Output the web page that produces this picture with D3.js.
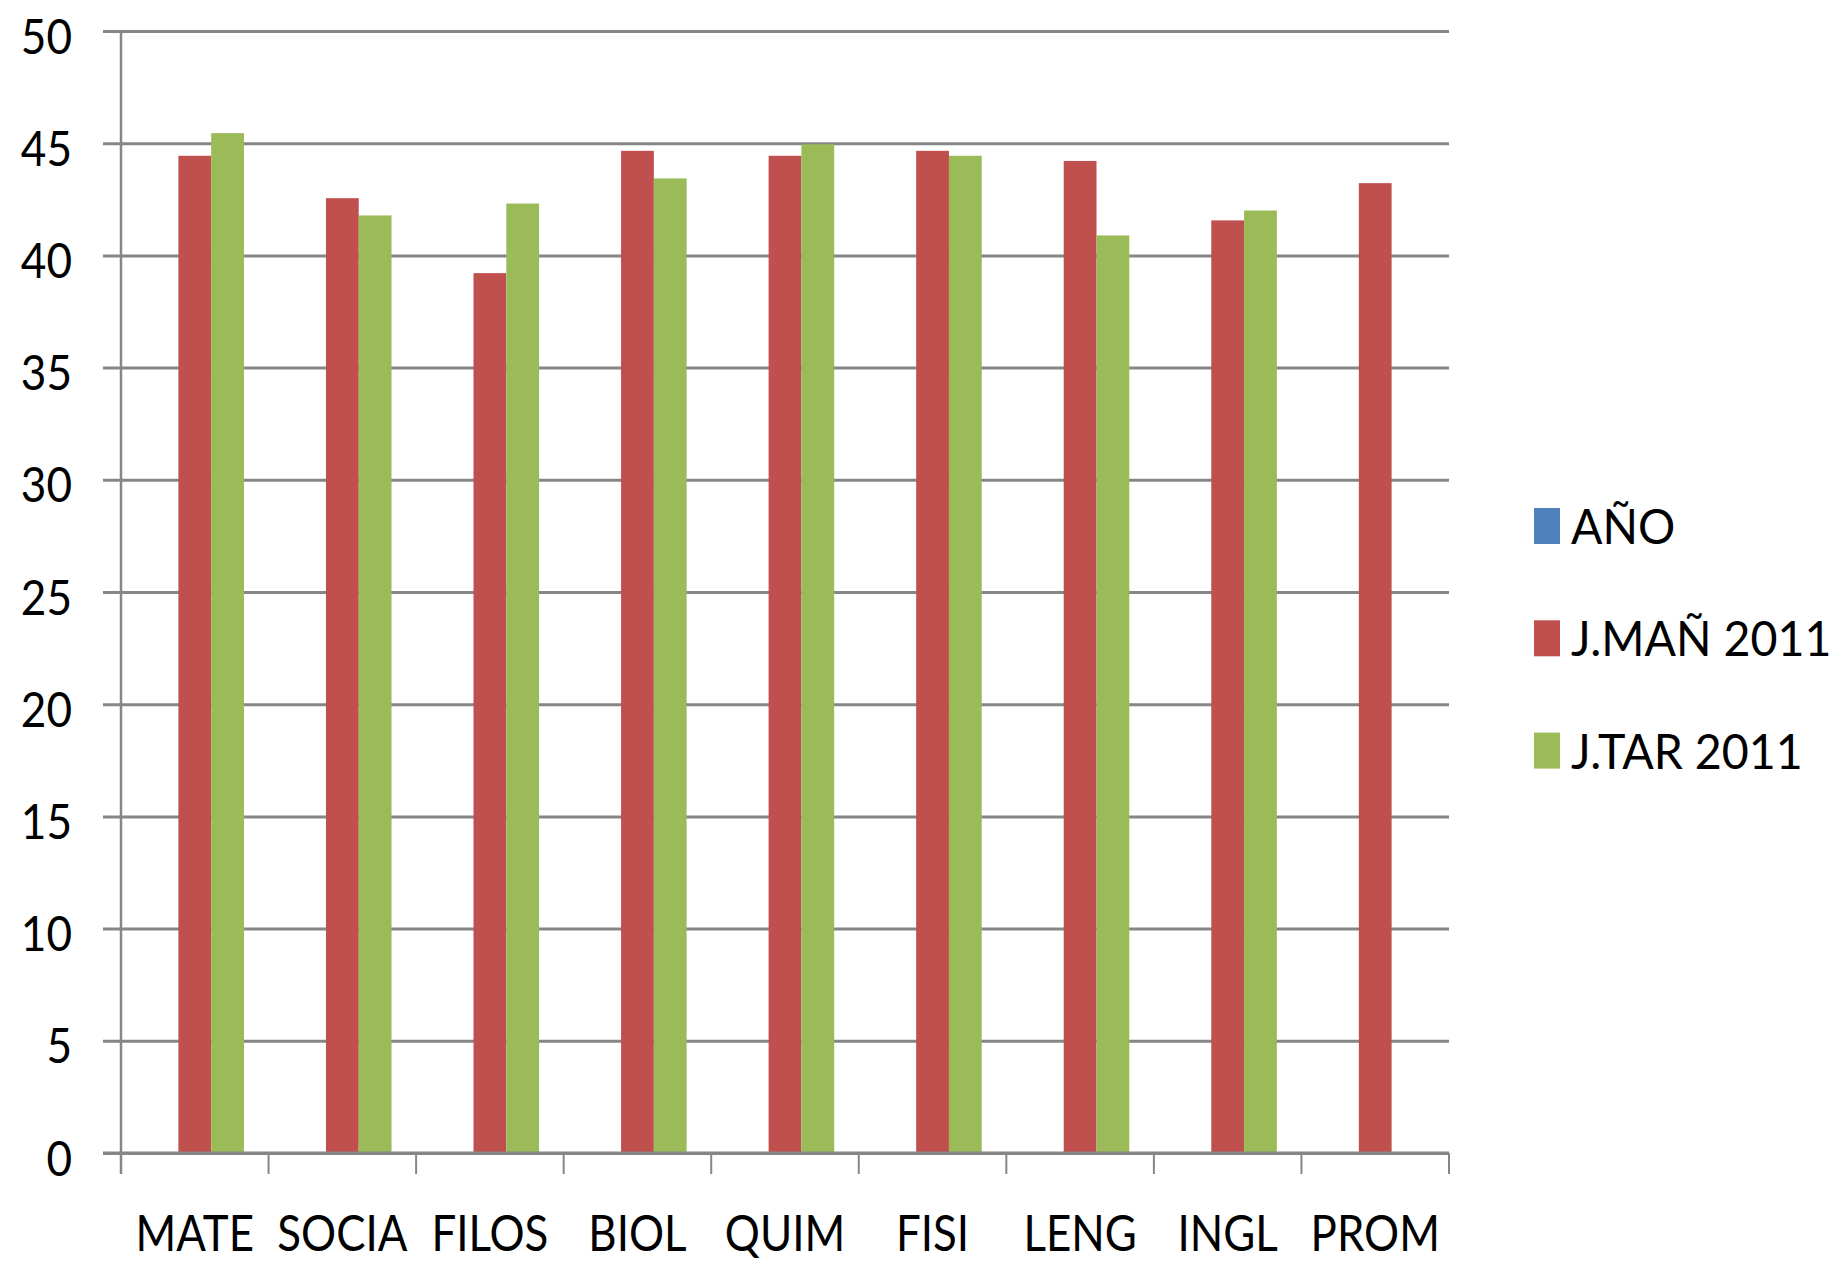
<!DOCTYPE html>
<html>
<head>
<meta charset="utf-8">
<script src="https://cdn.jsdelivr.net/npm/d3@7"></script>
<style>
  body { margin: 0; background: #fff; }
  svg text { font-family: Lato, "Open Sans", sans-serif; fill: #000; }
</style>
</head>
<body>
<svg id="chart"></svg>
<script>
const categories = ["MATE", "SOCIA", "FILOS", "BIOL", "QUIM", "FISI", "LENG", "INGL", "PROM"];
const seriesNames = ["AÑO", "J.MAÑ 2011", "J.TAR 2011"];
const ano = [0, 0, 0, 0, 0, 0, 0, 0, 0];
const jMan = [44.44, 42.55, 39.21, 44.66, 44.44, 44.66, 44.21, 41.56, 43.22];
const jTar = [45.45, 41.78, 42.31, 43.43, 44.95, 44.44, 40.89, 42.0, null];
const yTicks = [0, 5, 10, 15, 20, 25, 30, 35, 40, 45, 50];

const colors = { "AÑO": "#4F81BD", "J.MAÑ 2011": "#C0504D", "J.TAR 2011": "#9BBB59" };
const gridColor = "#868686";

const width = 1837;
const height = 1262;
const margin = { top: 31, right: 388, bottom: 109, left: 121 };
const chartWidth = width - margin.left - margin.right;
const chartHeight = height - margin.top - margin.bottom;

const rows = categories.map((c, i) => ({
  cat: c,
  "AÑO": ano[i],
  "J.MAÑ 2011": jMan[i],
  "J.TAR 2011": jTar[i]
}));

const svg = d3.select("#chart")
  .attr("width", width)
  .attr("height", height);

const g = svg.append("g")
  .attr("transform", `translate(${margin.left},${margin.top})`);

const x0 = d3.scaleBand()
  .domain(categories)
  .range([0, chartWidth])
  .padding(0);

// 3 bars per group, gap width 150%
const x1 = d3.scaleBand()
  .domain(seriesNames)
  .range([0, x0.bandwidth()])
  .paddingInner(0)
  .paddingOuter(0.75);

const y = d3.scaleLinear()
  .domain([0, 50])
  .range([chartHeight, 0]);

// gridlines with outward ticks
const yAxis = d3.axisLeft(y)
  .tickValues(yTicks)
  .tickSize(-chartWidth)
  .tickFormat("");

const yg = g.append("g").call(yAxis);
yg.select(".domain").remove();
yg.selectAll(".tick line")
  .attr("x1", -18)
  .attr("stroke", gridColor)
  .attr("stroke-width", 3);

// y tick labels
g.append("g")
  .selectAll("g")
  .data(yTicks)
  .enter()
  .append("g")
  .attr("transform", d => `translate(-49,${y(d) + 5}) scale(0.9,1)`)
  .append("text")
  .attr("text-anchor", "end")
  .attr("dy", "0.36em")
  .style("font-size", "49px")
  .text(d => d);

// y axis line
g.append("line")
  .attr("x1", 0).attr("x2", 0)
  .attr("y1", 0).attr("y2", chartHeight + 21)
  .attr("stroke", gridColor)
  .attr("stroke-width", 2.5);

// x axis ticks at category boundaries
const xBounds = categories.map(c => x0(c)).concat([chartWidth]);
g.append("g")
  .selectAll("line")
  .data(xBounds.slice(1))
  .enter()
  .append("line")
  .attr("x1", d => d).attr("x2", d => d)
  .attr("y1", chartHeight).attr("y2", chartHeight + 21)
  .attr("stroke", gridColor)
  .attr("stroke-width", 2);

// bars
const groups = g.append("g")
  .selectAll("g")
  .data(rows)
  .enter()
  .append("g")
  .attr("transform", d => `translate(${x0(d.cat)},0)`);

groups.selectAll("rect")
  .data(d => seriesNames.map(k => ({ key: k, value: d[k] })).filter(e => e.value != null))
  .enter()
  .append("rect")
  .attr("x", d => x1(d.key))
  .attr("width", x1.bandwidth())
  .attr("y", d => y(d.value))
  .attr("height", d => chartHeight - y(d.value))
  .attr("fill", d => colors[d.key]);

// redraw x axis line on top of bars
g.append("line")
  .attr("x1", -18).attr("x2", chartWidth)
  .attr("y1", chartHeight).attr("y2", chartHeight)
  .attr("stroke", gridColor)
  .attr("stroke-width", 3);

// category labels
g.append("g")
  .selectAll("g")
  .data(categories)
  .enter()
  .append("g")
  .attr("transform", d => `translate(${x0(d) + x0.bandwidth() / 2},${chartHeight + 98}) scale(0.86,1)`)
  .append("text")
  .attr("text-anchor", "middle")
  .style("font-size", "51px")
  .text(d => d);

// legend
const legend = svg.append("g")
  .attr("transform", `translate(${margin.left + chartWidth + 85},508)`);

const legendItems = legend.selectAll("g")
  .data(seriesNames)
  .enter()
  .append("g")
  .attr("transform", (d, i) => `translate(0,${i * 112.3})`);

legendItems.append("rect")
  .attr("width", 26)
  .attr("height", 36)
  .attr("fill", d => colors[d]);

legendItems.append("g")
  .attr("transform", "translate(37,36) scale(0.95,1)")
  .append("text")
  .style("font-size", "49px")
  .text(d => d);
</script>
</body>
</html>
